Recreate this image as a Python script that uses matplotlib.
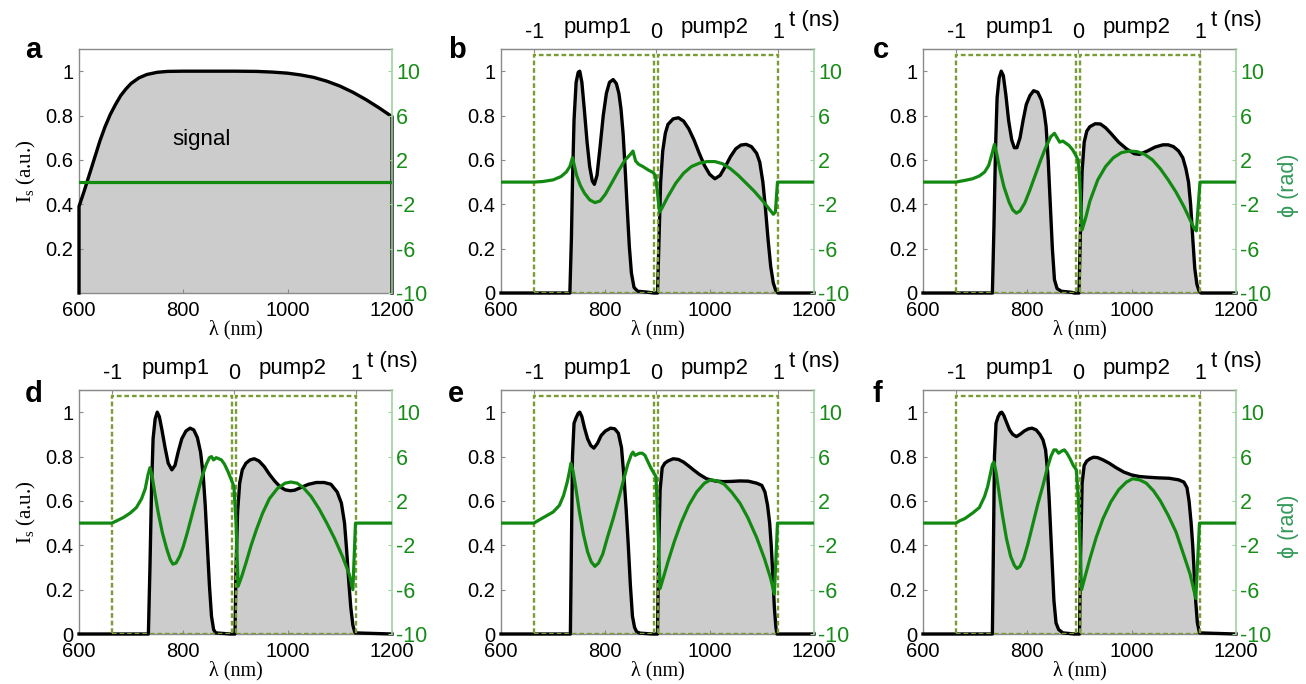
import matplotlib
matplotlib.use("Agg")
import matplotlib.pyplot as plt
from matplotlib.patches import Rectangle

# ---------------- data ----------------
# panel a : signal spectrum
a_int_wl = [600, 600, 610, 620, 630, 640, 650, 660, 670, 680, 690, 700, 715, 730, 750, 770, 800, 850,
            900, 940, 970, 1000, 1025, 1050, 1075, 1100, 1125, 1150, 1175, 1200, 1200]
a_int = [0, 0.39, 0.46, 0.535, 0.61, 0.685, 0.75, 0.805, 0.85, 0.89, 0.92, 0.945, 0.97, 0.985, 0.995,
         0.999, 1.0, 1.0, 1.0, 0.999, 0.996, 0.991, 0.983, 0.972, 0.955, 0.933, 0.905, 0.872, 0.835, 0.795, 0]
a_phase_wl = [600, 1200]
a_phase = [0, 0]

# panel b
b_int_wl = [600, 732, 735, 737, 740, 744, 748, 751, 755, 760, 765, 770, 775, 779, 784, 790, 796, 802, 808,
            815, 821, 826, 830, 834, 838, 842, 846, 850, 855, 862, 880, 893, 900, 903, 906, 910, 915, 920,
            930, 940, 950, 960, 970, 980, 990, 1000, 1010, 1020, 1030, 1040, 1050, 1060, 1070, 1080, 1090,
            1096, 1102, 1107, 1112, 1117, 1122, 1127, 1131, 1200]
b_int = [0, 0, 0.25, 0.5, 0.78, 0.95, 0.995, 1.0, 0.95, 0.82, 0.68, 0.57, 0.505, 0.49, 0.53, 0.66, 0.8,
         0.9, 0.95, 0.962, 0.945, 0.9, 0.83, 0.72, 0.56, 0.38, 0.21, 0.09, 0.025, 0.008, 0.004, 0, 0, 0.25,
         0.5, 0.64, 0.72, 0.76, 0.785, 0.79, 0.775, 0.74, 0.69, 0.63, 0.575, 0.535, 0.515, 0.53, 0.57, 0.615,
         0.65, 0.667, 0.67, 0.66, 0.63, 0.59, 0.5, 0.38, 0.24, 0.12, 0.045, 0.01, 0, 0]
b_phase_wl = [600, 663, 680, 700, 715, 725, 732, 737, 740, 745, 752, 760, 770, 780, 790, 800, 812, 825, 838,
              848, 853, 858, 864, 872, 882, 892, 896, 900, 904, 908, 920, 935, 950, 965, 980, 995, 1010,
              1025, 1040, 1055, 1070, 1085, 1100, 1112, 1122, 1126, 1130, 1200]
b_phase = [0, 0, 0.05, 0.2, 0.5, 0.9, 1.4, 2.2, 1.6, 0.6, -0.3, -1.0, -1.6, -1.85, -1.7, -1.1, -0.1, 1.0,
           2.0, 2.5, 2.8, 1.9, 1.6, 1.4, 1.1, 0.85, 0.6, -1.0, -2.7, -2.4, -1.3, -0.1, 0.8, 1.4, 1.7, 1.85,
           1.85, 1.65, 1.2, 0.6, -0.1, -0.8, -1.6, -2.3, -2.9, -2.7, 0, 0]

# panel c
c_int_wl = [600, 733, 736, 739, 742, 746, 750, 754, 759, 764, 770, 775, 780, 786, 792, 798, 805, 812, 820,
            827, 832, 836, 840, 844, 848, 852, 857, 865, 885, 890, 899, 902, 905, 909, 914, 920, 930, 940,
            950, 960, 975, 990, 1005, 1015, 1030, 1045, 1060, 1070, 1080, 1090, 1098, 1104, 1109, 1113,
            1117, 1121, 1125, 1129, 1133, 1200]
c_int = [0, 0, 0.3, 0.65, 0.88, 0.97, 1.0, 0.98, 0.89, 0.78, 0.69, 0.655, 0.655, 0.7, 0.78, 0.85, 0.89,
         0.912, 0.905, 0.87, 0.82, 0.75, 0.6, 0.4, 0.2, 0.06, 0.02, 0.008, 0.003, 0, 0, 0.3, 0.55, 0.68,
         0.73, 0.75, 0.763, 0.762, 0.745, 0.72, 0.68, 0.65, 0.628, 0.625, 0.64, 0.658, 0.668, 0.668, 0.66,
         0.64, 0.61, 0.56, 0.5, 0.4, 0.25, 0.11, 0.04, 0.01, 0, 0]
c_phase_wl = [600, 663, 680, 695, 708, 718, 726, 732, 737, 742, 748, 755, 765, 772, 779, 786, 795, 805,
              815, 825, 835, 845, 852, 857, 862, 868, 874, 880, 887, 893, 897, 900, 905, 912, 920, 935, 950,
              965, 980, 995, 1010, 1025, 1040, 1055, 1070, 1085, 1100, 1112, 1120, 1124, 1131, 1200]
c_phase = [0, 0, 0.15, 0.3, 0.55, 0.9, 1.5, 2.5, 3.4, 2.4, 1.0, -0.4, -1.8, -2.5, -2.8, -2.6, -1.9, -0.7,
           0.6, 1.9, 3.1, 4.1, 4.4, 4.0, 3.6, 3.7, 3.5, 3.3, 2.9, 2.4, 2.0, 0.5, -4.3, -3.2, -1.7, 0.2, 1.4,
           2.2, 2.65, 2.8, 2.75, 2.5, 2.0, 1.2, 0.2, -0.9, -2.2, -3.4, -4.2, -4.4, 0, 0]

# panel d
d_int_wl = [600, 733, 736, 739, 742, 746, 750, 754, 759, 765, 771, 778, 784, 790, 797, 805, 813, 820, 827,
            833, 838, 842, 846, 850, 854, 858, 862, 890, 899, 901, 904, 908, 913, 920, 928, 936, 945, 955,
            965, 975, 985, 995, 1005, 1013, 1025, 1040, 1055, 1070, 1083, 1095, 1103, 1109, 1113, 1117,
            1121, 1125, 1129, 1200]
d_int = [0, 0, 0.3, 0.65, 0.88, 0.97, 1.0, 0.98, 0.92, 0.84, 0.77, 0.74, 0.76, 0.82, 0.88, 0.915, 0.928,
         0.92, 0.885, 0.82, 0.72, 0.58, 0.4, 0.22, 0.08, 0.02, 0.005, 0, 0, 0.3, 0.55, 0.68, 0.74, 0.77,
         0.785, 0.79, 0.78, 0.755, 0.72, 0.69, 0.665, 0.65, 0.646, 0.648, 0.66, 0.675, 0.683, 0.683, 0.675,
         0.64, 0.59, 0.5, 0.38, 0.24, 0.12, 0.04, 0.005, 0]
d_phase_wl = [600, 663, 672, 685, 698, 710, 720, 727, 732, 736, 740, 745, 752, 760, 768, 775, 780, 786,
              793, 800, 808, 817, 827, 836, 844, 850, 854, 858, 863, 868, 873, 879, 886, 892, 897, 901, 905,
              912, 920, 930, 940, 952, 965, 980, 995, 1006, 1018, 1030, 1045, 1060, 1075, 1090, 1105, 1118,
              1125, 1130, 1200]
d_phase = [0, 0, 0.2, 0.5, 0.9, 1.4, 2.2, 3.1, 4.3, 5.0, 4.3, 2.8, 0.9, -0.9, -2.3, -3.3, -3.7, -3.6,
           -3.0, -2.1, -0.8, 0.8, 2.6, 4.2, 5.3, 5.9, 6.0, 5.7, 5.9, 5.8, 5.7, 5.3, 4.6, 3.9, 3.3, 0.0, -5.7,
           -4.8, -3.6, -2.0, -0.6, 0.9, 2.2, 3.1, 3.6, 3.7, 3.6, 3.2, 2.4, 1.3, 0.0, -1.4, -3.0, -4.6, -6.0,
           0, 0]

# panel e
e_int_wl = [600, 733, 735, 737, 740, 744, 748, 751, 755, 760, 766, 772, 778, 785, 792, 800, 810, 818, 825,
            831, 836, 840, 844, 848, 852, 856, 860, 866, 890, 900, 902, 905, 909, 914, 920, 930, 940, 950,
            960, 970, 980, 994, 1010, 1026, 1042, 1058, 1074, 1090, 1100, 1106, 1111, 1115, 1118, 1121,
            1124, 1127, 1129, 1200]
e_int = [0, 0, 0.4, 0.8, 0.95, 0.975, 0.995, 1.0, 0.98, 0.93, 0.88, 0.85, 0.838, 0.86, 0.895, 0.915,
         0.928, 0.925, 0.905, 0.84, 0.7, 0.56, 0.4, 0.22, 0.08, 0.03, 0.01, 0.004, 0, 0, 0.35, 0.65, 0.75,
         0.77, 0.78, 0.79, 0.787, 0.775, 0.757, 0.738, 0.72, 0.70, 0.69, 0.687, 0.688, 0.69, 0.689, 0.68,
         0.67, 0.64, 0.58, 0.5, 0.4, 0.27, 0.12, 0.03, 0, 0]
e_phase_wl = [600, 663, 672, 685, 700, 712, 720, 727, 731, 734, 738, 743, 750, 758, 766, 773, 780, 787,
              795, 804, 815, 825, 835, 843, 850, 853, 857, 861, 866, 871, 876, 881, 887, 893, 897, 900, 905,
              912, 920, 932, 945, 960, 975, 990, 1002, 1015, 1028, 1042, 1058, 1073, 1090, 1105, 1117, 1124,
              1130, 1200]
e_phase = [0, 0, 0.25, 0.6, 1.0, 1.6, 2.5, 3.7, 4.6, 5.4, 4.7, 3.3, 1.1, -1.0, -2.6, -3.5, -3.9, -3.6,
           -2.8, -1.3, 0.4, 2.1, 3.9, 5.3, 6.2, 6.4, 6.1, 6.2, 6.3, 6.3, 6.1, 5.6, 5.0, 4.5, 4.2, 1.0, -5.9,
           -4.8, -3.5, -1.7, 0.0, 1.6, 2.8, 3.6, 3.9, 3.8, 3.5, 2.8, 1.8, 0.5, -1.3, -3.2, -5.0, -6.4, 0, 0]

# panel f
f_int_wl = [600, 733, 735, 737, 740, 744, 748, 751, 755, 760, 766, 772, 779, 786, 794, 802, 809, 817, 824,
            830, 835, 839, 842, 845, 848, 851, 855, 860, 868, 890, 900, 902, 905, 909, 914, 920, 927, 935,
            945, 957, 970, 985, 1000, 1015, 1030, 1050, 1072, 1090, 1100, 1106, 1110, 1114, 1117, 1120,
            1123, 1126, 1130, 1200]
f_int = [0, 0, 0.4, 0.8, 0.95, 0.98, 0.997, 1.0, 0.985, 0.955, 0.92, 0.9, 0.89, 0.9, 0.915, 0.925, 0.928,
         0.92, 0.9, 0.875, 0.83, 0.73, 0.6, 0.45, 0.3, 0.15, 0.05, 0.02, 0.005, 0, 0, 0.35, 0.68, 0.76,
         0.78, 0.79, 0.797, 0.795, 0.785, 0.77, 0.75, 0.73, 0.717, 0.71, 0.707, 0.704, 0.702, 0.695, 0.685,
         0.66, 0.6, 0.5, 0.4, 0.27, 0.14, 0.05, 0.005, 0]
f_phase_wl = [600, 663, 670, 680, 695, 708, 718, 724, 729, 733, 736, 740, 745, 752, 760, 768, 775, 780,
              786, 793, 801, 810, 820, 830, 838, 845, 851, 855, 860, 866, 871, 876, 882, 888, 894, 898, 904,
              912, 920, 932, 945, 960, 975, 990, 1002, 1015, 1028, 1042, 1055, 1070, 1085, 1100, 1112,
              1123, 1130, 1200]
f_phase = [0, 0, 0.2, 0.4, 0.9, 1.4, 2.4, 3.3, 4.4, 5.3, 5.5, 4.6, 3.0, 0.8, -1.4, -3.0, -3.8, -4.1,
           -3.9, -3.2, -1.9, -0.2, 1.7, 3.4, 4.9, 6.0, 6.6, 6.6, 6.3, 6.5, 6.6, 6.3, 5.8, 5.2, 4.8, 2.0,
           -6.0, -4.6, -3.2, -1.3, 0.4, 1.9, 3.0, 3.7, 4.0, 3.9, 3.6, 2.9, 2.0, 0.7, -0.8, -2.9, -4.6, -6.8,
           0, 0]

panel_letters = ["a", "b", "c", "d", "e", "f"]
x_ticks = [600, 800, 1000, 1200]
y_ticks = [0, 0.2, 0.4, 0.6, 0.8, 1]
y_ticklabels = ["0", "0.2", "0.4", "0.6", "0.8", "1"]
phase_ticks = [-10, -6, -2, 2, 6, 10]
t_ticks = [-1, 0, 1]
t_ticklabels = ["-1", "0", "1"]
pump_windows = [(-1.0, -0.02), (0.02, 1.0)]   # time windows (ns)
pump_names = ["pump1", "pump2"]
pump_label_t = [-0.48, 0.48]
window_height = 1.075

# ---------------- style ----------------
SANS = ["Liberation Sans", "DejaVu Sans"]
SERIF = ["Liberation Serif", "DejaVu Serif"]
plt.rcParams["font.family"] = SANS
GREEN = "#128a12"
GREEN_TXT = "#188c18"
GREEN_SPINE = "#9fd39f"
PHI_LABEL = "#33995a"
OLIVE = "#7a9c34"
GRAY = "#8a8a8a"
FILL = "#cccccc"
T0, T_SCALE = 897.1, 233.7   # lambda (nm) <-> t (ns) mapping of the top axis

fig = plt.figure(figsize=(13.06, 6.84), dpi=100)
W, H = 1306.0, 684.0
col_left = [79, 501, 923]
row_top = [49, 390]
aw, ah = 313, 244

panels = [
    (a_int_wl, a_int, a_phase_wl, a_phase),
    (b_int_wl, b_int, b_phase_wl, b_phase),
    (c_int_wl, c_int, c_phase_wl, c_phase),
    (d_int_wl, d_int, d_phase_wl, d_phase),
    (e_int_wl, e_int, e_phase_wl, e_phase),
    (f_int_wl, f_int, f_phase_wl, f_phase),
]

for k, (iwl, ival, pwl, pval) in enumerate(panels):
    r, c = divmod(k, 3)
    left = col_left[c] / W
    bottom = 1 - (row_top[r] + ah) / H
    ax = fig.add_axes([left, bottom, aw / W, ah / H])
    ax.fill_between(iwl, ival, 0, color=FILL, lw=0, zorder=1)
    ax.plot(iwl, ival, color="black", lw=2.4, zorder=3, clip_on=False, solid_joinstyle="round")
    ax.set_xlim(600, 1200)
    ax.set_ylim(0, 1.1)
    ax.set_xticks(x_ticks)
    ax.set_xticklabels([str(v) for v in x_ticks])
    if k == 0:
        ax.set_yticks(y_ticks[1:])
        ax.set_yticklabels(y_ticklabels[1:])
    else:
        ax.set_yticks(y_ticks)
        ax.set_yticklabels(y_ticklabels)
    ax.tick_params(axis="both", direction="in", length=3, color=GRAY, labelsize=14.5)
    ax.tick_params(axis="x", pad=6)
    ax.tick_params(axis="y", pad=4)
    for s in ["left", "top", "bottom"]:
        ax.spines[s].set_color(GRAY)
        ax.spines[s].set_linewidth(1.0)
    ax.spines["right"].set_visible(False)
    ax.set_xlabel("λ (nm)", family=SERIF, fontsize=14.5, labelpad=0)
    if c == 0:
        ax.set_ylabel(r"$\mathregular{I_s}$ (a.u.)", family=SERIF, fontsize=15, labelpad=5)

    if k == 0:
        ax.text(834, 0.69, "signal", fontsize=16, ha="center", va="center", zorder=4)
    else:
        axt = ax.twiny()
        axt.set_xlim((600 - T0) / T_SCALE, (1200 - T0) / T_SCALE)
        axt.set_ylim(0, 1.1)
        axt.set_xticks(t_ticks)
        axt.set_xticklabels(t_ticklabels)
        axt.tick_params(axis="x", direction="in", length=3, color=GRAY, labelsize=15.5, pad=4)
        for s in ["left", "right", "bottom"]:
            axt.spines[s].set_visible(False)
        axt.spines["top"].set_color(GRAY)
        for (t0, t1) in pump_windows:
            axt.add_patch(Rectangle((t0, 0), t1 - t0, window_height, fill=False, edgecolor=OLIVE,
                                    lw=1.7, linestyle=(0, (2.0, 1.2)), zorder=2))
        tr = axt.get_xaxis_transform()
        for name, tx in zip(pump_names, pump_label_t):
            axt.text(tx, 1.088, name, transform=tr, ha="center", va="center", fontsize=16)
        axt.text(1.0, 1.118, "t (ns)", transform=axt.transAxes, ha="center", va="center", fontsize=16)

    axp = ax.twinx()
    axp.plot(pwl, pval, color=GREEN, lw=2.3, zorder=5, solid_joinstyle="round")
    axp.set_ylim(-10, 12)
    axp.set_xlim(600, 1200)
    axp.set_yticks(phase_ticks)
    axp.set_yticklabels([str(v) for v in phase_ticks])
    axp.tick_params(axis="y", direction="in", length=3, color=GREEN_SPINE, labelcolor=GREEN_TXT,
                    labelsize=15.5, pad=3)
    for s in ["left", "top", "bottom"]:
        axp.spines[s].set_visible(False)
    axp.spines["right"].set_color(GREEN_SPINE)
    axp.spines["right"].set_linewidth(1.2)
    if c == 2:
        axp.set_ylabel("ϕ (rad)", color=PHI_LABEL, fontsize=15.5, labelpad=6)
        axp.yaxis.set_label_coords(1.135, 0.44)

    fig.text((25 if c == 0 else (448 if c == 1 else 873)) / W, 1 - (58 if r == 0 else 402) / H,
             panel_letters[k], fontsize=21, fontweight="bold", ha="left", va="baseline")

fig.savefig("out.png", dpi=100)
